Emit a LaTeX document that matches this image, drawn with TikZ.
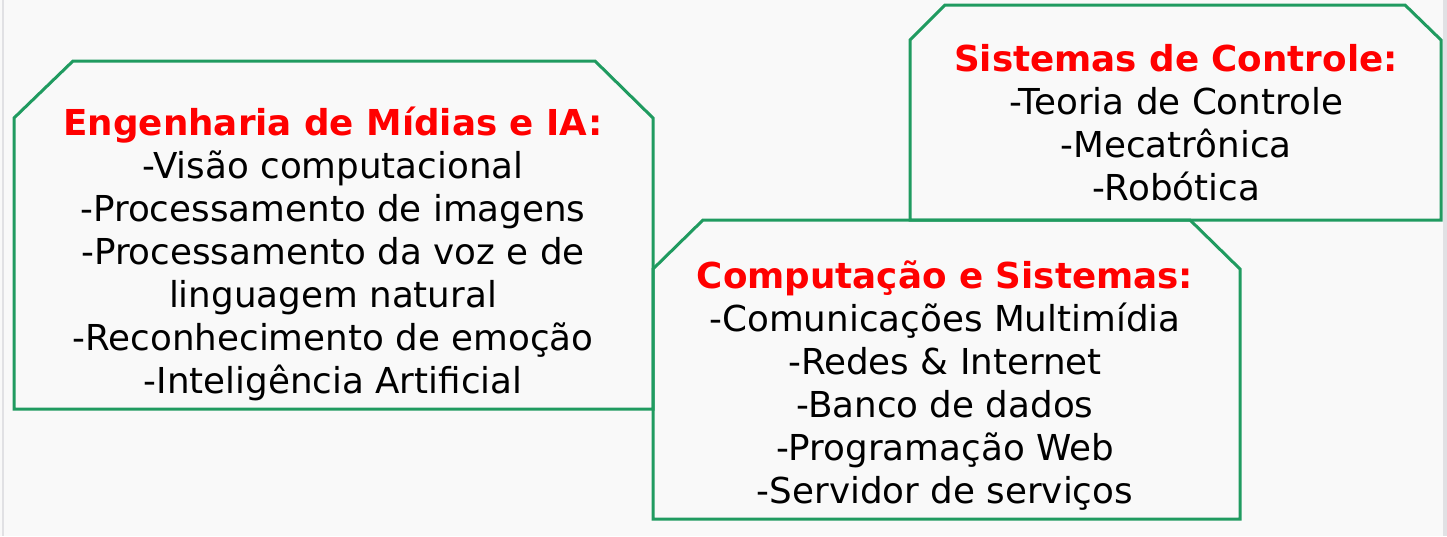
\documentclass[tikz,border=0pt]{standalone}
\usepackage{fontspec}
\setmainfont{DejaVu Sans}
\definecolor{boxgreen}{RGB}{32,155,96}
\definecolor{headred}{RGB}{255,0,0}
\definecolor{bg}{RGB}{249,249,249}
\definecolor{edge}{RGB}{225,225,228}
\begin{document}
\begin{tikzpicture}[x=1pt,y=-1pt,
  frame/.style={draw=boxgreen,line width=3pt,line join=miter},
  txt/.style={anchor=base,align=center,inner sep=0pt,font=\fontsize{35.7}{43}\selectfont}]
\useasboundingbox (0,0) rectangle (1447,536);
\fill[bg] (0,0) rectangle (1447,536);
\fill[edge] (2,0) rectangle (4,536);
\fill[edge] (1443,0) rectangle (1447,536);
% box 1
\draw[frame] (14,118) -- (73,61) -- (595,61) -- (653,118) -- (653,409) -- (14,409) -- cycle;
% box 3
\draw[frame] (910,40) -- (945,5) -- (1405,5) -- (1441,40) -- (1441,220) -- (910,220) -- cycle;
% box 2
\draw[frame] (653,269) -- (703,220) -- (1190,220) -- (1240,269) -- (1240,519) -- (653,519) -- cycle;
\node[txt] (t1) at (333,393) {{\color{headred}\bfseries Engenharia de Mídias e IA:}\\-Visão computacional\\-Processamento de imagens\\-Processamento da voz e de\\linguagem natural\\-Reconhecimento de emoção\\-Inteligência Artificial};
\node[txt] (t2) at (945,503) {{\color{headred}\bfseries Computação e Sistemas:}\\-Comunicações Multimídia\\-Redes \& Internet\\-Banco de dados\\-Programação Web\\-Servidor de serviços};
\node[txt] (t3) at (1176,200) {{\color{headred}\bfseries Sistemas de Controle:}\\-Teoria de Controle\\-Mecatrônica\\-Robótica};
\end{tikzpicture}
\end{document}
